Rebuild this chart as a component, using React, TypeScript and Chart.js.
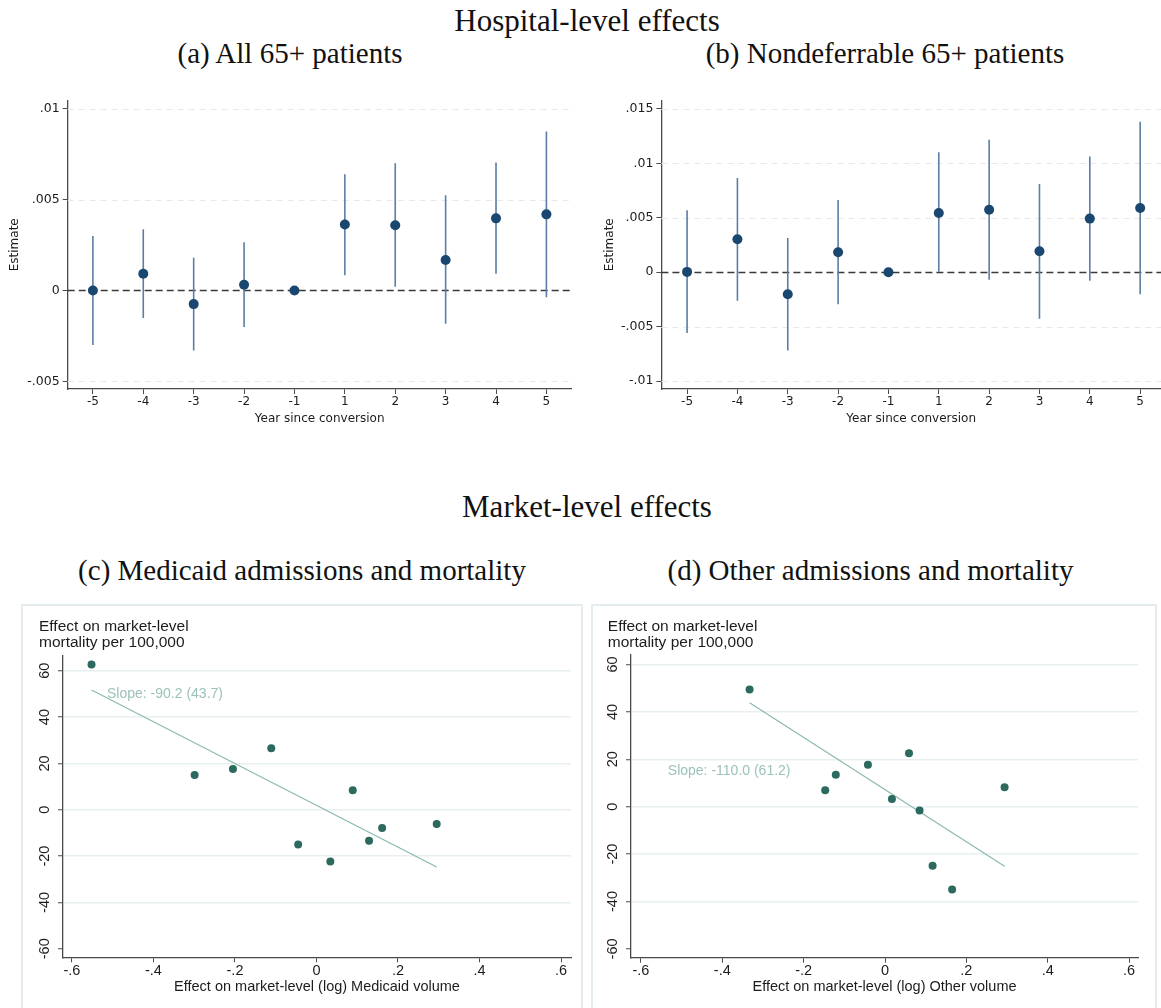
import React, { useEffect, useRef } from "react";
import { Chart, registerables } from "chart.js";

Chart.register(...registerables);

// ---- Hospital-level event-study estimates (years relative to conversion) ----
const yearLabels = ["-5", "-4", "-3", "-2", "-1", "1", "2", "3", "4", "5"];

const allEstimate = [0.0, 0.00092, -0.00075, 0.00031, 0.0, 0.00363, 0.00359, 0.00168, 0.00397, 0.00419];
const allLower = [-0.003, -0.00152, -0.0033, -0.00201, null, 0.00084, 0.0002, -0.00183, 0.00092, -0.00037];
const allUpper = [0.003, 0.00337, 0.0018, 0.00266, null, 0.00639, 0.007, 0.00524, 0.00705, 0.00875];

const nondefEstimate = [0.00003, 0.00302, -0.00202, 0.00183, 0.0, 0.00544, 0.00574, 0.00192, 0.00492, 0.0059];
const nondefLower = [-0.00559, -0.00263, -0.00718, -0.00293, null, 0.0, -0.0007, -0.00428, -0.00079, -0.00202];
const nondefUpper = [0.00568, 0.00865, 0.00315, 0.00663, null, 0.011, 0.01216, 0.0081, 0.01063, 0.01381];

const allYTicks = [-0.005, 0, 0.005, 0.01];
const allYTickLabels = ["-.005", "0", ".005", ".01"];
const nondefYTicks = [-0.01, -0.005, 0, 0.005, 0.01, 0.015];
const nondefYTickLabels = ["-.01", "-.005", "0", ".005", ".01", ".015"];

// ---- Market-level binned effects ----
const medicaidVolume = [-0.552, -0.299, -0.205, -0.111, -0.045, 0.034, 0.089, 0.129, 0.161, 0.295];
const medicaidMortality = [62.7, 15.0, 17.6, 26.6, -15.0, -22.3, 8.4, -13.4, -7.9, -6.2];
const otherVolume = [-0.333, -0.147, -0.121, -0.042, 0.017, 0.059, 0.085, 0.117, 0.165, 0.294];
const otherMortality = [49.4, 6.9, 13.5, 17.7, 3.2, 22.5, -1.6, -24.9, -34.9, 8.2];

const medicaidSlope = -90.2;
const medicaidSlopeSE = 43.7;
const medicaidIntercept = 1.9;
const otherSlope = -110.0;
const otherSlopeSE = 61.2;
const otherIntercept = 7.25;

// anchor of the slope note, in data units (volume, mortality)
const medicaidNoteAt = [-0.514, 49.8];
const otherNoteAt = [-0.534, 14.8];

const marketXTicks = [-0.6, -0.4, -0.2, 0, 0.2, 0.4, 0.6];
const marketXTickLabels = ["-.6", "-.4", "-.2", "0", ".2", ".4", ".6"];
const marketYTicks = [-60, -40, -20, 0, 20, 40, 60];
const marketYTitle = ["Effect on market-level", "mortality per 100,000"];

// ---- styling ----
const NAVY = "#1a476f";
const CI_BLUE = "#5a7ea4";
const AXIS = "#4a4a4a";
const TEXT = "#1c1c1c";
const TEAL = "#2c6a5f";
const FIT = "#8dbab1";
const NOTE = "#9cc2ba";
const MARKET_GRID = "#e8eff1";
const SANS_TOP = "'DejaVu Sans', sans-serif";
const SANS_BOTTOM = "'Liberation Sans', Arial, sans-serif";
const SERIF = "'Liberation Serif', 'Times New Roman', serif";

type Box = { left: number; top: number; width: number; height: number };

function makeEventGrid() {
  return {
    id: "eventGrid",
    beforeDatasetsDraw(chart: any) {
      const { ctx, chartArea: a, scales } = chart;
      const y = scales.y;
      ctx.save();
      y.ticks.forEach((t: any) => {
        const py = Math.round(y.getPixelForValue(t.value)) + 0.5;
        ctx.beginPath();
        if (t.value === 0) {
          ctx.strokeStyle = "#3a3a3a";
          ctx.lineWidth = 1.5;
          ctx.setLineDash([7, 4]);
        } else {
          ctx.strokeStyle = "#e8e8e8";
          ctx.lineWidth = 1;
          ctx.setLineDash([6, 5]);
        }
        ctx.moveTo(a.left, py);
        ctx.lineTo(a.right, py);
        ctx.stroke();
      });
      ctx.restore();
    },
  };
}

type EventProps = {
  box: Box;
  estimate: number[];
  lower: (number | null)[];
  upper: (number | null)[];
  yTicks: number[];
  yTickLabels: string[];
  yMin: number;
  yMax: number;
  xMin: number;
  xMax: number;
  yAxisWidth: number;
  padTop: number;
  padRight: number;
  xAxisHeight: number;
  yTitlePad: number;
};

function EventStudyPanel(p: EventProps) {
  const ref = useRef<HTMLCanvasElement>(null);
  useEffect(() => {
    const font = { family: SANS_TOP, size: 12 };
    const points = p.estimate.map((v, i) => ({ x: i, y: v }));
    const intervals = p.estimate
      .map((_, i) => ({ x: i, y: [p.lower[i], p.upper[i]] }))
      .filter((d) => d.y[0] !== null && d.y[1] !== null);
    const chart = new Chart(ref.current as HTMLCanvasElement, {
      type: "scatter",
      data: {
        datasets: [
          {
            type: "scatter",
            data: points,
            pointRadius: 5,
            pointHoverRadius: 5,
            backgroundColor: NAVY,
            borderWidth: 0,
            order: 0,
          } as any,
          {
            type: "bar",
            data: intervals,
            backgroundColor: CI_BLUE,
            borderWidth: 0,
            barThickness: 1.6,
            inflateAmount: 0,
            order: 1,
          } as any,
        ],
      },
      options: {
        animation: false,
        responsive: false,
        maintainAspectRatio: false,
        layout: { padding: { left: 0, top: p.padTop, right: p.padRight, bottom: 0 }, autoPadding: false },
        plugins: { legend: { display: false }, tooltip: { enabled: false } },
        scales: {
          x: {
            type: "linear",
            min: p.xMin,
            max: p.xMax,
            offset: false,
            afterBuildTicks: (s: any) => {
              s.ticks = yearLabels.map((_, i) => ({ value: i }));
            },
            afterFit: (s: any) => {
              s.height = p.xAxisHeight;
            },
            ticks: {
              callback: (v: any) => yearLabels[v as number],
              font,
              color: TEXT,
              padding: 1,
              autoSkip: false,
              maxRotation: 0,
            },
            grid: { offset: false, drawOnChartArea: false, drawTicks: true, tickLength: 5, tickColor: AXIS, tickWidth: 1 },
            border: { display: true, color: AXIS, width: 1.3 },
            title: { display: true, text: "Year since conversion", font, color: TEXT, padding: { top: 0, bottom: 4 } },
          },
          y: {
            type: "linear",
            min: p.yMin,
            max: p.yMax,
            afterBuildTicks: (s: any) => {
              s.ticks = p.yTicks.map((v) => ({ value: v }));
            },
            afterFit: (s: any) => {
              s.width = p.yAxisWidth;
            },
            ticks: {
              callback: (v: any) => p.yTickLabels[p.yTicks.indexOf(v as number)],
              font: { family: SANS_TOP, size: 12.5 },
              color: TEXT,
              padding: 3,
            },
            grid: { drawOnChartArea: false, drawTicks: true, tickLength: 5, tickColor: AXIS, tickWidth: 1 },
            border: { display: true, color: AXIS, width: 1.3 },
            title: { display: true, text: "Estimate", font, color: TEXT, padding: { top: p.yTitlePad, bottom: 0 } },
          },
        },
      } as any,
      plugins: [makeEventGrid()],
    });
    return () => chart.destroy();
  }, []);
  const { left, top, width, height } = p.box;
  return (
    <canvas
      ref={ref}
      width={width}
      height={height}
      style={{ position: "absolute", left, top, width, height }}
    />
  );
}

type MarketProps = {
  box: Box;
  volume: number[];
  mortality: number[];
  slope: number;
  slopeSE: number;
  intercept: number;
  noteAt: number[];
  xTitle: string;
  xMin: number;
  xMax: number;
  yMin: number;
  yMax: number;
  yAxisWidth: number;
  padTop: number;
  padRight: number;
  xAxisHeight: number;
  titleX: number;
};

function makeMarketDecor(p: MarketProps) {
  const note = `Slope: ${p.slope.toFixed(1)} (${p.slopeSE.toFixed(1)})`;
  return {
    id: "marketDecor",
    afterDraw(chart: any) {
      const { ctx, chartArea: a, scales } = chart;
      const x = scales.x;
      const y = scales.y;
      ctx.save();
      // vertical tick labels on the mortality axis
      ctx.fillStyle = TEXT;
      ctx.font = `14.5px ${SANS_BOTTOM}`;
      ctx.textAlign = "center";
      ctx.textBaseline = "middle";
      y.ticks.forEach((t: any) => {
        const py = y.getPixelForValue(t.value);
        ctx.save();
        ctx.translate(a.left - 18, py);
        ctx.rotate(-Math.PI / 2);
        ctx.fillText(String(t.value), 0, 0);
        ctx.restore();
      });
      // axis title above the plot
      ctx.textAlign = "left";
      ctx.font = `15.5px ${SANS_BOTTOM}`;
      marketYTitle.forEach((line, i) => ctx.fillText(line, p.titleX, 20.7 + i * 16));
      // slope annotation
      ctx.fillStyle = NOTE;
      ctx.font = `14px ${SANS_BOTTOM}`;
      ctx.fillText(note, x.getPixelForValue(p.noteAt[0]), y.getPixelForValue(p.noteAt[1]));
      ctx.restore();
    },
  };
}

function MarketPanel(p: MarketProps) {
  const ref = useRef<HTMLCanvasElement>(null);
  useEffect(() => {
    const font = { family: SANS_BOTTOM, size: 14.5 };
    const lo = Math.min(...p.volume);
    const hi = Math.max(...p.volume);
    const chart = new Chart(ref.current as HTMLCanvasElement, {
      type: "scatter",
      data: {
        datasets: [
          {
            type: "scatter",
            data: p.volume.map((v, i) => ({ x: v, y: p.mortality[i] })),
            pointRadius: 4,
            pointHoverRadius: 4,
            backgroundColor: TEAL,
            borderWidth: 0,
            order: 0,
          } as any,
          {
            type: "line",
            data: [
              { x: lo, y: p.intercept + p.slope * lo },
              { x: hi, y: p.intercept + p.slope * hi },
            ],
            borderColor: FIT,
            borderWidth: 1.3,
            pointRadius: 0,
            tension: 0,
            fill: false,
            order: 1,
          } as any,
        ],
      },
      options: {
        animation: false,
        responsive: false,
        maintainAspectRatio: false,
        layout: { padding: { left: 0, top: p.padTop, right: p.padRight, bottom: 0 }, autoPadding: false },
        plugins: { legend: { display: false }, tooltip: { enabled: false } },
        scales: {
          x: {
            type: "linear",
            min: p.xMin,
            max: p.xMax,
            afterBuildTicks: (s: any) => {
              s.ticks = marketXTicks.map((v) => ({ value: v }));
            },
            afterFit: (s: any) => {
              s.height = p.xAxisHeight;
            },
            ticks: {
              callback: (v: any) => marketXTickLabels[marketXTicks.indexOf(v as number)],
              font,
              color: TEXT,
              padding: 0,
              autoSkip: false,
              maxRotation: 0,
            },
            grid: { drawOnChartArea: false, drawTicks: true, tickLength: 5, tickColor: AXIS, tickWidth: 1 },
            border: { display: true, color: AXIS, width: 1.3 },
            title: { display: true, text: p.xTitle, font, color: TEXT, padding: { top: 0, bottom: 12 } },
          },
          y: {
            type: "linear",
            min: p.yMin,
            max: p.yMax,
            afterBuildTicks: (s: any) => {
              s.ticks = marketYTicks.map((v) => ({ value: v }));
            },
            afterFit: (s: any) => {
              s.width = p.yAxisWidth;
            },
            ticks: { display: false },
            grid: {
              drawOnChartArea: true,
              color: (c: any) => (c.tick && c.tick.value === -60 ? "rgba(0,0,0,0)" : MARKET_GRID),
              lineWidth: 1.5,
              drawTicks: true,
              tickLength: 5,
              tickColor: AXIS,
              tickWidth: 1,
            },
            border: { display: true, color: AXIS, width: 1.3 },
          },
        },
      } as any,
      plugins: [makeMarketDecor(p)],
    });
    return () => chart.destroy();
  }, []);
  const { left, top, width, height } = p.box;
  return (
    <canvas
      ref={ref}
      width={width}
      height={height}
      style={{ position: "absolute", left, top, width, height }}
    />
  );
}

function Heading(props: { text: string; center: number; top: number; size?: number }) {
  const size = props.size ?? 30;
  return (
    <div
      style={{
        position: "absolute",
        left: props.center,
        top: props.top,
        transform: "translateX(-50%)",
        fontFamily: SERIF,
        fontSize: size,
        lineHeight: `${size}px`,
        whiteSpace: "nowrap",
        color: "#111",
      }}
    >
      {props.text}
    </div>
  );
}

export default function App() {
  return (
    <div
      style={{
        position: "absolute",
        left: 0,
        top: 0,
        width: 1161,
        height: 1008,
        overflow: "hidden",
        background: "#fff",
      }}
    >
      <Heading text="Hospital-level effects" center={587} top={5} size={31} />
      <Heading text="(a) All 65+ patients" center={290} top={38.5} size={29} />
      <Heading text="(b) Nondeferrable 65+ patients" center={885} top={38.5} size={29} />

      <EventStudyPanel
        box={{ left: 0, top: 90, width: 580, height: 340 }}
        estimate={allEstimate}
        lower={allLower}
        upper={allUpper}
        yTicks={allYTicks}
        yTickLabels={allYTickLabels}
        yMin={-0.005423}
        yMax={0.010456}
        xMin={-0.5}
        xMax={9.5}
        yAxisWidth={67.7}
        padTop={10}
        padRight={8.4}
        xAxisHeight={41}
        yTitlePad={7.8}
      />
      <EventStudyPanel
        box={{ left: 580, top: 90, width: 581, height: 340 }}
        estimate={nondefEstimate}
        lower={nondefLower}
        upper={nondefUpper}
        yTicks={nondefYTicks}
        yTickLabels={nondefYTickLabels}
        yMin={-0.01072}
        yMax={0.01576}
        xMin={-0.51}
        xMax={9.414}
        yAxisWidth={81.4}
        padTop={10}
        padRight={0}
        xAxisHeight={41}
        yTitlePad={22.4}
      />

      <Heading text="Market-level effects" center={587} top={490.6} size={31} />
      <Heading text="(c) Medicaid admissions and mortality" center={302} top={555.5} size={29} />
      <Heading text="(d) Other admissions and mortality" center={870.5} top={555.5} size={29} />

      <div
        style={{
          position: "absolute",
          left: 21,
          top: 604,
          width: 562,
          height: 430,
          border: "2px solid #e4ecef",
          boxSizing: "border-box",
        }}
      />
      <div
        style={{
          position: "absolute",
          left: 591,
          top: 604,
          width: 566,
          height: 430,
          border: "2px solid #e4ecef",
          boxSizing: "border-box",
        }}
      />

      <MarketPanel
        box={{ left: 23, top: 606, width: 558, height: 402 }}
        volume={medicaidVolume}
        mortality={medicaidMortality}
        slope={medicaidSlope}
        slopeSE={medicaidSlopeSE}
        intercept={medicaidIntercept}
        noteAt={medicaidNoteAt}
        xTitle="Effect on market-level (log) Medicaid volume"
        xMin={-0.622}
        xMax={0.6245}
        yMin={-63.7}
        yMax={66.5}
        yAxisWidth={40}
        padTop={49.7}
        padRight={10}
        xAxisHeight={50.7}
        titleX={16}
      />
      <MarketPanel
        box={{ left: 593, top: 606, width: 562, height: 402 }}
        volume={otherVolume}
        mortality={otherMortality}
        slope={otherSlope}
        slopeSE={otherSlopeSE}
        intercept={otherIntercept}
        noteAt={otherNoteAt}
        xTitle="Effect on market-level (log) Other volume"
        xMin={-0.6245}
        xMax={0.622}
        yMin={-63.7}
        yMax={64.0}
        yAxisWidth={38}
        padTop={49}
        padRight={17}
        xAxisHeight={50.3}
        titleX={14.8}
      />
    </div>
  );
}
